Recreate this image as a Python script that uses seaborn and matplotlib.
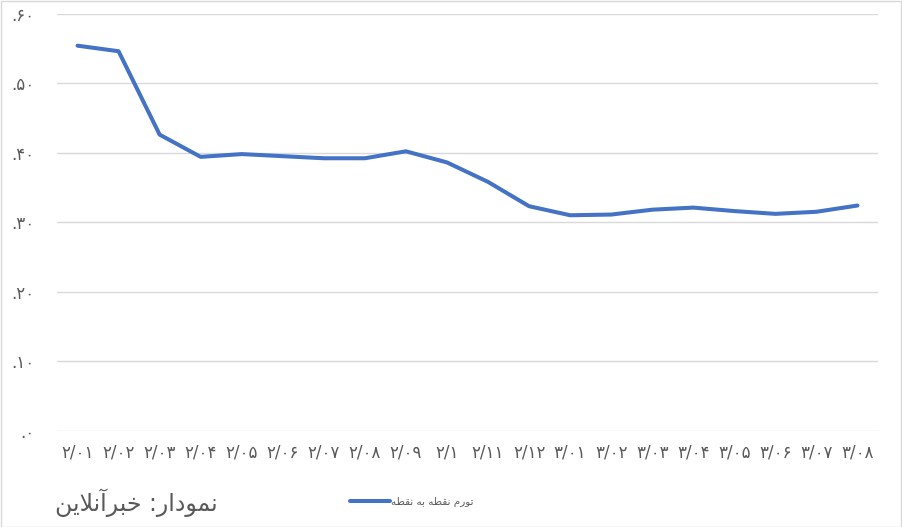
import matplotlib
matplotlib.use("Agg")
import matplotlib.pyplot as plt
import matplotlib.patches as mpatches
import seaborn as sns
import pandas as pd

# ---------------- data ----------------
periods = ["۲/۰۱", "۲/۰۲", "۲/۰۳", "۲/۰۴", "۲/۰۵", "۲/۰۶", "۲/۰۷", "۲/۰۸", "۲/۰۹", "۲/۱",
           "۲/۱۱", "۲/۱۲", "۳/۰۱", "۳/۰۲", "۳/۰۳", "۳/۰۴", "۳/۰۵", "۳/۰۶", "۳/۰۷", "۳/۰۸"]
inflation = [0.554, 0.546, 0.426, 0.394, 0.398, 0.395, 0.392, 0.392, 0.402, 0.386,
             0.358, 0.323, 0.310, 0.311, 0.318, 0.321, 0.316, 0.312, 0.315, 0.324]
y_ticks = [0.0, 0.1, 0.2, 0.3, 0.4, 0.5, 0.6]
y_tick_labels = [".۰", ".۱۰", ".۲۰", ".۳۰", ".۴۰", ".۵۰", ".۶۰"]
series_name = "تورم نقطه به نقطه"
footer_text = "نمودار: خبرآنلاین"

# ------------- minimal Persian shaping (matplotlib has no bidi/shaping) -------------
FORMS = {  # iso, fin, ini, med
    "ا": ("\uFE8D", "\uFE8E", None, None),
    "آ": ("\uFE81", "\uFE82", None, None),
    "د": ("\uFEA9", "\uFEAA", None, None),
    "ر": ("\uFEAD", "\uFEAE", None, None),
    "و": ("\uFEED", "\uFEEE", None, None),
    "ب": ("\uFE8F", "\uFE90", "\uFE91", "\uFE92"),
    "ت": ("\uFE95", "\uFE96", "\uFE97", "\uFE98"),
    "خ": ("\uFEA5", "\uFEA6", "\uFEA7", "\uFEA8"),
    "ط": ("\uFEC1", "\uFEC2", "\uFEC3", "\uFEC4"),
    "ق": ("\uFED5", "\uFED6", "\uFED7", "\uFED8"),
    "ل": ("\uFEDD", "\uFEDE", "\uFEDF", "\uFEE0"),
    "م": ("\uFEE1", "\uFEE2", "\uFEE3", "\uFEE4"),
    "ن": ("\uFEE5", "\uFEE6", "\uFEE7", "\uFEE8"),
    "ه": ("\uFEE9", "\uFEEA", "\uFEEB", "\uFEEC"),
    "ی": ("\uFBFC", "\uFBFD", "\uFBFE", "\uFBFF"),
}
LAM_ALEF = {"ا": ("\uFEFB", "\uFEFC"), "آ": ("\uFEF5", "\uFEF6")}


def dual(c):
    return c in FORMS and FORMS[c][2] is not None


def shape(text):
    out = []
    i = 0
    n = len(text)
    while i < n:
        c = text[i]
        prev = text[i - 1] if i > 0 else ""
        if c not in FORMS:
            out.append(c)
            i += 1
            continue
        join_prev = dual(prev)
        if c == "ل" and i + 1 < n and text[i + 1] in LAM_ALEF:
            iso, fin = LAM_ALEF[text[i + 1]]
            out.append(fin if join_prev else iso)
            i += 2
            continue
        nxt = text[i + 1] if i + 1 < n else ""
        join_next = dual(c) and nxt in FORMS
        iso, fin, ini, med = FORMS[c]
        if join_prev and join_next:
            out.append(med)
        elif join_prev:
            out.append(fin)
        elif join_next:
            out.append(ini)
        else:
            out.append(iso)
        i += 1
    return "".join(out)[::-1]


# ---------------- plot ----------------
sns.set_theme(style="white")
plt.rcParams["font.family"] = ["DejaVu Sans"]

W, H = 902, 527
fig = plt.figure(figsize=(W / 100, H / 100), dpi=100)
ax = fig.add_axes([57 / W, 1 - 430.7 / H, (878 - 57) / W, (430.7 - 13.7) / H])

df = pd.DataFrame({"period": periods, "value": inflation})
sns.lineplot(data=df, x="period", y="value", sort=False, color="#4472C4",
             linewidth=2.9, ax=ax, label=shape(series_name))

ax.set_ylim(0, 0.6)
ax.set_xlim(-0.5, len(periods) - 0.5)
ax.set_yticks(y_ticks)
ax.set_yticklabels(y_tick_labels)
ax.set_xticks(range(len(periods)))
ax.set_xticklabels(periods)
ax.set_xlabel("")
ax.set_ylabel("")
ax.tick_params(axis="both", length=0, labelsize=12, colors="#595959")
ax.tick_params(axis="y", pad=16)
ax.tick_params(axis="x", pad=9)
ax.grid(axis="y", color="#d9d9d9", linewidth=1.0)
ax.set_axisbelow(True)
for s in ax.spines.values():
    s.set_visible(False)

leg = ax.legend(loc="center left", bbox_to_anchor=(350 / W, 1 - 502 / H),
                bbox_transform=fig.transFigure, frameon=False, fontsize=7.5,
                handlelength=3.85, handletextpad=0.12, borderpad=0, borderaxespad=0)
for t in leg.get_texts():
    t.set_color("#595959")

fig.text(55 / W, 1 - 503 / H, shape(footer_text), ha="left", va="center",
         fontsize=17, color="#595959")

fig.add_artist(mpatches.Rectangle((0.5 / W, 0.5 / H), 1 - 1.5 / W, 1 - 1.5 / H,
                                  transform=fig.transFigure, fill=False,
                                  edgecolor="#d9d9d9", linewidth=1))

fig.savefig("out.png", dpi=100)
